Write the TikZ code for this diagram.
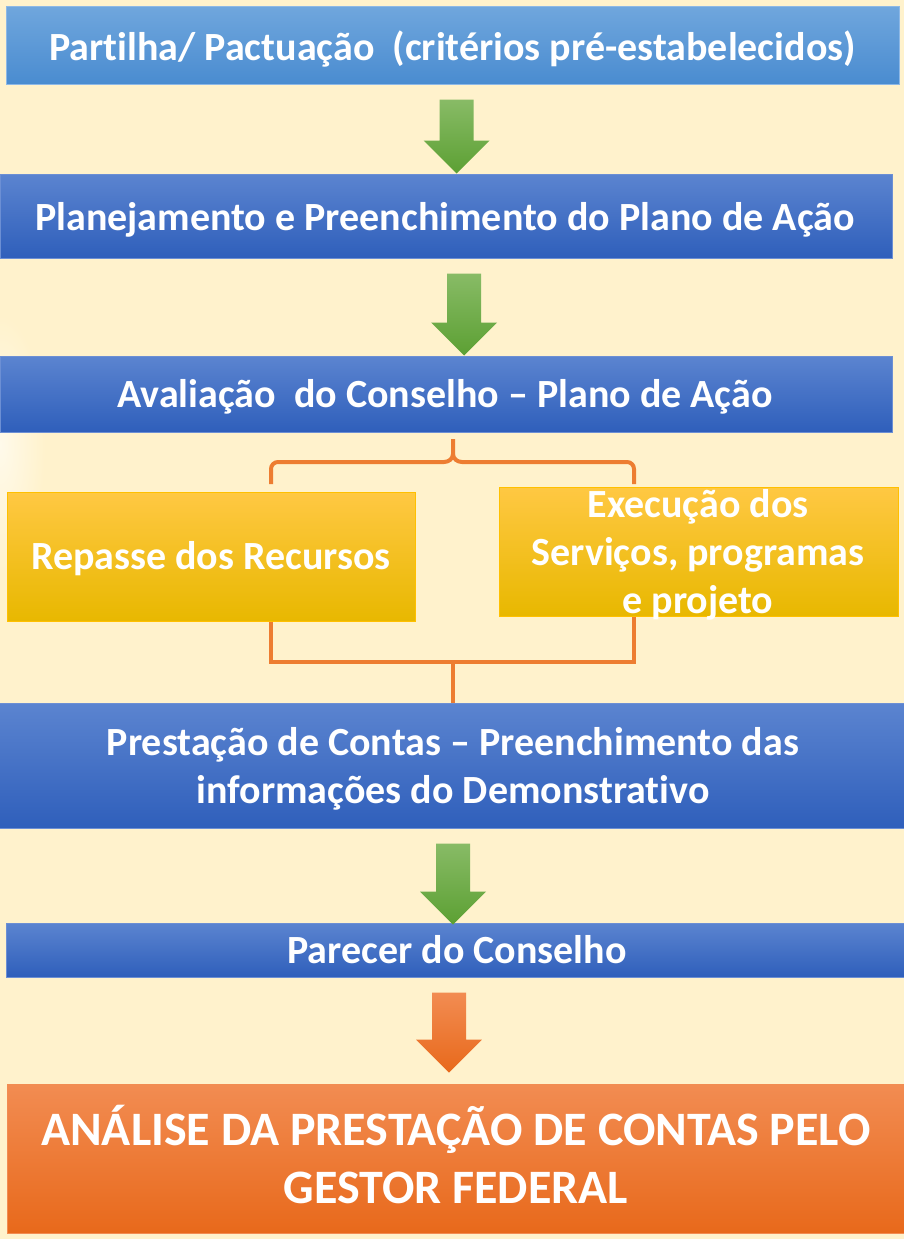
\documentclass[tikz,border=0pt]{standalone}
\usepackage{fontspec}
\setmainfont{Carlito}[Ligatures=NoCommon]
\usetikzlibrary{calc}
\definecolor{bg}{HTML}{FFF2CC}
\definecolor{tbtop}{HTML}{6FA6DD}
\definecolor{tbbot}{HTML}{4A8CD0}
\definecolor{tbdraw}{HTML}{8DB8E6}
\definecolor{bltop}{HTML}{5B84D0}
\definecolor{blbot}{HTML}{2F5FBB}
\definecolor{bldraw}{HTML}{6C8FD4}
\definecolor{yetop}{HTML}{FFC843}
\definecolor{yebot}{HTML}{E8B800}
\definecolor{yedraw}{HTML}{FFC000}
\definecolor{grtop}{HTML}{88BB66}
\definecolor{grbot}{HTML}{5CA033}
\definecolor{ortop}{HTML}{F28C52}
\definecolor{orbot}{HTML}{E8691B}
\definecolor{brk}{HTML}{ED7D31}
\newcommand\blockarrow[5]{%
  \shade[#1] let \p1=(#2.south), \p2=(#3.north) in
    (#4pt-17pt,\y1-15pt) -- (#4pt+17pt,\y1-15pt) -- (#4pt+17pt,\y2+#5pt+33pt)
    -- (#4pt+33pt,\y2+#5pt+33pt) -- (#4pt,\y2+#5pt) -- (#4pt-33pt,\y2+#5pt+33pt)
    -- (#4pt-17pt,\y2+#5pt+33pt) -- cycle;}
\begin{document}
\begin{tikzpicture}[x=1pt,y=-1pt,
  box/.style={rectangle, inner sep=0pt, line width=1pt},
  topbox/.style={box, top color=tbtop, bottom color=tbbot, draw=tbdraw},
  bluebox/.style={box, top color=bltop, bottom color=blbot, draw=bldraw},
  yellowbox/.style={box, top color=yetop, bottom color=yebot, draw=yedraw},
  orangebox/.style={box, top color=ortop, bottom color=orbot, draw=ortop},
  lbl/.style={text=white, font=\fontsize{40}{48}\selectfont\bfseries, inner sep=0pt, anchor=base},
  biglbl/.style={lbl, font=\fontsize{48}{56}\selectfont\bfseries},
  greenarr/.style={top color=grtop, bottom color=grbot},
  orangearr/.style={top color=ortop, bottom color=orbot},
  bracket/.style={draw=brk, line width=4pt}]
\useasboundingbox (0,0) rectangle (904,1239);
\fill[bg] (0,0) rectangle (904,1239);
\shade[inner color=white!60!bg, outer color=bg] (0,445) ellipse (45 and 130);

% boxes
\node[topbox, minimum width=893pt, minimum height=77pt] (b1) at (452.5,45.5) {};
\node[bluebox, minimum width=892pt, minimum height=84pt] (b2) at (446,216) {};
\node[bluebox, minimum width=892pt, minimum height=76pt] (b3) at (446,394) {};
\node[yellowbox, minimum width=408pt, minimum height=129pt] (y1) at (211,556.5) {};
\node[yellowbox, minimum width=399pt, minimum height=129pt] (y2) at (698.5,551.5) {};
\node[bluebox, minimum width=908pt, minimum height=125pt] (b5) at (453,765.5) {};
\node[bluebox, minimum width=900pt, minimum height=54pt] (b6) at (456,950) {};
\node[orangebox, minimum width=900pt, minimum height=149pt] (o1) at (457,1158.5) {};

% texts
\node[lbl] (t1) at (452.5,60) {Partilha/ Pactuação\ \ (critérios pré-estabelecidos)};
\node[lbl] (t2) at (445,230) {Planejamento e Preenchimento do Plano de Ação};
\node[lbl] (t3) at (445,407) {Avaliação\ \ do Conselho – Plano de Ação};
\node[lbl] (t4) at (211,569) {Repasse dos Recursos};
\node[lbl] (t5a) at (698,517) {Execução dos};
\node[lbl] (t5b) at (698,565) {Serviços, programas};
\node[lbl] (t5c) at (698,613) {e projeto};
\node[lbl] (t6a) at (453,755) {Prestação de Contas – Preenchimento das};
\node[lbl] (t6b) at (453,803) {informações do Demonstrativo};
\node[lbl] (t7) at (457,963) {Parecer do Conselho};
\node[biglbl] (t8a) at (456,1145) {ANÁLISE DA PRESTAÇÃO DE CONTAS PELO};
\node[biglbl] (t8b) at (456,1203) {GESTOR FEDERAL};

% arrows
\blockarrow{greenarr}{b1}{b2}{456.5}{0}
\blockarrow{greenarr}{b2}{b3}{464}{0}
\blockarrow{greenarr}{b5}{b6}{453}{-2}
\blockarrow{orangearr}{b6}{o1}{449}{11}

% brace
\coordinate (bc) at (453,439);
\coordinate (bl) at (271,484);
\coordinate (br) at (634,484);
\draw[bracket] (bl) -- (271,469) to[out=90,in=180] (278,462) -- (444,462)
  to[out=0,in=-90] (453,454) -- (bc);
\draw[bracket] (br) -- (634,469) to[out=90,in=0] (627,462) -- (462,462)
  to[out=180,in=-90] (453,454);

% join bracket
\coordinate (jL) at (271,662);
\coordinate (jR) at (634,662);
\coordinate (jC) at (453,662);
\draw[bracket] (y1.south -| jL) -- (jL) -- (jR) -- (y2.south -| jR);
\draw[bracket] (jC) -- (b5.north -| jC);
\end{tikzpicture}
\end{document}
